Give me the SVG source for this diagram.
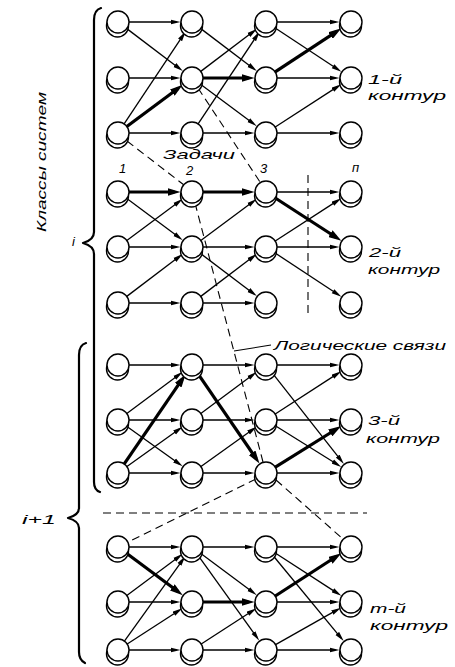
<svg xmlns="http://www.w3.org/2000/svg" xmlns:xlink="http://www.w3.org/1999/xlink" width="455" height="667" viewBox="0 0 455 667">
<style>
.e{stroke:#000;stroke-width:1.3;fill:none;marker-end:url(#a)}
.t{stroke:#000;stroke-width:3.2;fill:none;marker-end:url(#A)}
.d{stroke:#000;stroke-width:1.1;stroke-dasharray:8 5;fill:none}
.s{stroke:#000;stroke-width:1.1;fill:none}
.br{stroke:#000;stroke-width:2.2;fill:none;stroke-linecap:round;stroke-linejoin:round}
.nd circle{fill:#fff;stroke:#000;stroke-width:1.4}
text{font-family:"Liberation Sans","DejaVu Sans",sans-serif;font-style:italic;font-size:13px;fill:#000}
</style>
<defs>
<marker id="a" markerUnits="userSpaceOnUse" viewBox="0 0 10 6" refX="6" refY="3" markerWidth="10" markerHeight="6" orient="auto"><path d="M0,0.6 L10,3 L0,5.4 Z" fill="#000"/></marker>
<marker id="A" markerUnits="userSpaceOnUse" viewBox="0 0 13 8" refX="7" refY="4" markerWidth="13" markerHeight="8" orient="auto"><path d="M0,0 L13,4 L0,8 Z" fill="#000"/></marker>
<g id="nd" class="nd"><circle cx="-0.5" cy="4" r="11"/><circle cx="0" cy="0" r="11"/></g>
</defs>
<rect width="455" height="667" fill="#fff"/>

<g id="connectors">
<!-- contour 1 -->
<path class="e" d="M129,22 L176.5,22"/>
<path class="e" d="M126.77,28.64 L179.64,68.65"/>
<path class="e" d="M129,78 L176.5,78"/>
<path class="e" d="M124.1,123.85 L183.4,34.9"/>
<path class="t" d="M126.83,126.44 L177.95,88.44"/>
<path class="e" d="M129,133 L176.5,133"/>
<path class="e" d="M200.77,28.64 L253.64,68.65"/>
<path class="e" d="M200.77,71.36 L253.64,31.35"/>
<path class="t" d="M203,78 L248.5,78"/>
<path class="e" d="M200.83,84.56 L253.56,123.75"/>
<path class="e" d="M198.1,123.85 L257.4,34.9"/>
<path class="e" d="M203,133 L250.5,133"/>
<path class="e" d="M277,22 L335.5,22"/>
<path class="e" d="M275.18,28.05 L338.06,69.47"/>
<path class="t" d="M275.18,71.95 L336.39,31.63"/>
<path class="e" d="M277,78 L335.5,78"/>
<path class="e" d="M275.24,127.02 L337.98,86.42"/>
<path class="e" d="M277,133 L335.5,133"/>
<!-- contour 2 -->
<path class="t" d="M129,192 L174.5,192"/>
<path class="e" d="M126.83,198.56 L179.56,237.75"/>
<path class="e" d="M126.83,240.44 L179.56,201.25"/>
<path class="e" d="M129,247 L176.5,247"/>
<path class="e" d="M126.77,296.36 L179.64,256.35"/>
<path class="e" d="M129,303 L176.5,303"/>
<path class="t" d="M203,192 L248.5,192"/>
<path class="e" d="M200.83,240.44 L253.56,201.25"/>
<path class="e" d="M203,247 L250.5,247"/>
<path class="e" d="M200.77,253.64 L253.64,293.65"/>
<path class="e" d="M200.77,296.36 L253.64,256.35"/>
<path class="e" d="M203,303 L250.5,303"/>
<path class="e" d="M277,192 L335.5,192"/>
<path class="t" d="M275.24,197.98 L336.3,237.49"/>
<path class="e" d="M275.24,241.02 L337.98,200.42"/>
<path class="e" d="M277,247 L335.5,247"/>
<path class="e" d="M275.18,253.05 L338.06,294.47"/>
<!-- contour 3 -->
<path class="e" d="M129,365 L176.5,365"/>
<path class="e" d="M126.83,413.44 L179.56,374.25"/>
<path class="e" d="M129,420 L176.5,420"/>
<path class="e" d="M126.95,426.41 L179.4,463.97"/>
<path class="t" d="M124.22,463.92 L182.11,379.44"/>
<path class="e" d="M126.95,466.59 L179.4,429.03"/>
<path class="e" d="M129,473 L176.5,473"/>
<path class="e" d="M203,365 L250.5,365"/>
<path class="t" d="M198.22,374.08 L256.11,458.56"/>
<path class="e" d="M200.83,413.44 L253.56,374.25"/>
<path class="e" d="M203,420 L250.5,420"/>
<path class="e" d="M200.95,466.59 L253.4,429.03"/>
<path class="e" d="M203,473 L250.5,473"/>
<path class="e" d="M277,365 L335.5,365"/>
<path class="e" d="M272.8,373.65 L341.41,460.82"/>
<path class="e" d="M275.24,414.02 L337.98,373.42"/>
<path class="e" d="M277,420 L335.5,420"/>
<path class="e" d="M275.33,425.82 L337.85,464.8"/>
<path class="t" d="M275.33,467.18 L336.15,429.26"/>
<path class="e" d="M277,473 L335.5,473"/>
<!-- contour m -->
<path class="e" d="M129,547 L176.5,547"/>
<path class="t" d="M126.83,553.56 L177.95,591.56"/>
<path class="e" d="M126.83,595.44 L179.56,556.25"/>
<path class="e" d="M129,602 L176.5,602"/>
<path class="e" d="M124.42,641.06 L182.95,559.59"/>
<path class="e" d="M127.23,644.01 L179,610.44"/>
<path class="e" d="M129,650 L176.5,650"/>
<path class="e" d="M203,547 L250.5,547"/>
<path class="e" d="M200.83,553.56 L253.56,592.75"/>
<path class="e" d="M198.42,555.94 L256.95,637.41"/>
<path class="t" d="M203,602 L248.5,602"/>
<path class="e" d="M201.23,644.01 L253,610.44"/>
<path class="e" d="M203,650 L250.5,650"/>
<path class="e" d="M277,547 L335.5,547"/>
<path class="e" d="M275.24,552.98 L337.98,593.58"/>
<path class="e" d="M273,555.49 L341.13,638.04"/>
<path class="t" d="M275.24,596.02 L336.3,556.51"/>
<path class="e" d="M277,602 L335.5,602"/>
<path class="e" d="M275.58,644.59 L337.5,609.62"/>
<path class="e" d="M277,650 L335.5,650"/>
<!-- logical links (dashed) -->
<path class="d" d="M127,141 L184,185"/>
<path class="d" d="M198,88 L260,182"/>
<path class="d" d="M195,203 L263,462"/>
<path class="d" d="M256,479 L128,542"/>
<path class="d" d="M276,480 L343,539"/>
<path class="d" d="M103,513 L367,513"/>
<path class="d" d="M308,175 L308,318"/>
<path class="s" d="M234,351 L271,345"/>
</g>

<g id="nodes">
<g id="n1-a1"><use xlink:href="#nd" x="118" y="22"/></g>
<g id="n1-a2"><use xlink:href="#nd" x="192" y="22"/></g>
<g id="n1-a3"><use xlink:href="#nd" x="266" y="22"/></g>
<g id="n1-a4"><use xlink:href="#nd" x="351" y="22"/></g>
<g id="n1-b1"><use xlink:href="#nd" x="118" y="78"/></g>
<g id="n1-b2"><use xlink:href="#nd" x="192" y="78"/></g>
<g id="n1-b3"><use xlink:href="#nd" x="266" y="78"/></g>
<g id="n1-b4"><use xlink:href="#nd" x="351" y="78"/></g>
<g id="n1-c1"><use xlink:href="#nd" x="118" y="133"/></g>
<g id="n1-c2"><use xlink:href="#nd" x="192" y="133"/></g>
<g id="n1-c3"><use xlink:href="#nd" x="266" y="133"/></g>
<g id="n1-c4"><use xlink:href="#nd" x="351" y="133"/></g>
<g id="n2-a1"><use xlink:href="#nd" x="118" y="192"/></g>
<g id="n2-a2"><use xlink:href="#nd" x="192" y="192"/></g>
<g id="n2-a3"><use xlink:href="#nd" x="266" y="192"/></g>
<g id="n2-a4"><use xlink:href="#nd" x="351" y="192"/></g>
<g id="n2-b1"><use xlink:href="#nd" x="118" y="247"/></g>
<g id="n2-b2"><use xlink:href="#nd" x="192" y="247"/></g>
<g id="n2-b3"><use xlink:href="#nd" x="266" y="247"/></g>
<g id="n2-b4"><use xlink:href="#nd" x="351" y="247"/></g>
<g id="n2-c1"><use xlink:href="#nd" x="118" y="303"/></g>
<g id="n2-c2"><use xlink:href="#nd" x="192" y="303"/></g>
<g id="n2-c3"><use xlink:href="#nd" x="266" y="303"/></g>
<g id="n2-c4"><use xlink:href="#nd" x="351" y="303"/></g>
<g id="n3-a1"><use xlink:href="#nd" x="118" y="365"/></g>
<g id="n3-a2"><use xlink:href="#nd" x="192" y="365"/></g>
<g id="n3-a3"><use xlink:href="#nd" x="266" y="365"/></g>
<g id="n3-a4"><use xlink:href="#nd" x="351" y="365"/></g>
<g id="n3-b1"><use xlink:href="#nd" x="118" y="420"/></g>
<g id="n3-b2"><use xlink:href="#nd" x="192" y="420"/></g>
<g id="n3-b3"><use xlink:href="#nd" x="266" y="420"/></g>
<g id="n3-b4"><use xlink:href="#nd" x="351" y="420"/></g>
<g id="n3-c1"><use xlink:href="#nd" x="118" y="473"/></g>
<g id="n3-c2"><use xlink:href="#nd" x="192" y="473"/></g>
<g id="n3-c3"><use xlink:href="#nd" x="266" y="473"/></g>
<g id="n3-c4"><use xlink:href="#nd" x="351" y="473"/></g>
<g id="nm-a1"><use xlink:href="#nd" x="118" y="547"/></g>
<g id="nm-a2"><use xlink:href="#nd" x="192" y="547"/></g>
<g id="nm-a3"><use xlink:href="#nd" x="266" y="547"/></g>
<g id="nm-a4"><use xlink:href="#nd" x="351" y="547"/></g>
<g id="nm-b1"><use xlink:href="#nd" x="118" y="602"/></g>
<g id="nm-b2"><use xlink:href="#nd" x="192" y="602"/></g>
<g id="nm-b3"><use xlink:href="#nd" x="266" y="602"/></g>
<g id="nm-b4"><use xlink:href="#nd" x="351" y="602"/></g>
<g id="nm-c1"><use xlink:href="#nd" x="118" y="650"/></g>
<g id="nm-c2"><use xlink:href="#nd" x="192" y="650"/></g>
<g id="nm-c3"><use xlink:href="#nd" x="266" y="650"/></g>
<g id="nm-c4"><use xlink:href="#nd" x="351" y="650"/></g>
</g>

<g id="braces">
<path class="br" d="M101,8 Q94,10 94,20 L94,232 Q94,240 83,243 Q94,246 94,254 L94,482 Q94,490 100,492"/>
<path class="br" d="M86,343 Q79,345 79,355 L79,508 Q79,515 68,518 Q79,521 79,528 L79,652 Q79,660 85,663"/>
</g>

<g id="labels">
<text x="163" y="159" textLength="72" lengthAdjust="spacingAndGlyphs">Задачи</text>
<text x="119" y="173">1</text>
<text x="186" y="175">2</text>
<text x="260" y="173">3</text>
<text x="352" y="172">п</text>
<text x="368" y="84" textLength="34" lengthAdjust="spacingAndGlyphs">1-й</text>
<text x="368" y="100" textLength="78" lengthAdjust="spacingAndGlyphs">контур</text>
<text x="369" y="257" textLength="32" lengthAdjust="spacingAndGlyphs">2-й</text>
<text x="368" y="274" textLength="72" lengthAdjust="spacingAndGlyphs">контур</text>
<text x="274" y="350" textLength="172" lengthAdjust="spacingAndGlyphs">Логические связи</text>
<text x="368" y="425" textLength="32" lengthAdjust="spacingAndGlyphs">3-й</text>
<text x="366" y="443" textLength="74" lengthAdjust="spacingAndGlyphs">контур</text>
<text x="370" y="613" textLength="36" lengthAdjust="spacingAndGlyphs">m-й</text>
<text x="370" y="630" textLength="78" lengthAdjust="spacingAndGlyphs">контур</text>
<text x="72" y="246">i</text>
<text x="22" y="524" textLength="34" lengthAdjust="spacingAndGlyphs">i+1</text>
<text transform="translate(46,232) rotate(-90)" x="0" y="0" textLength="140" lengthAdjust="spacingAndGlyphs">Классы систем</text>
</g>
</svg>
